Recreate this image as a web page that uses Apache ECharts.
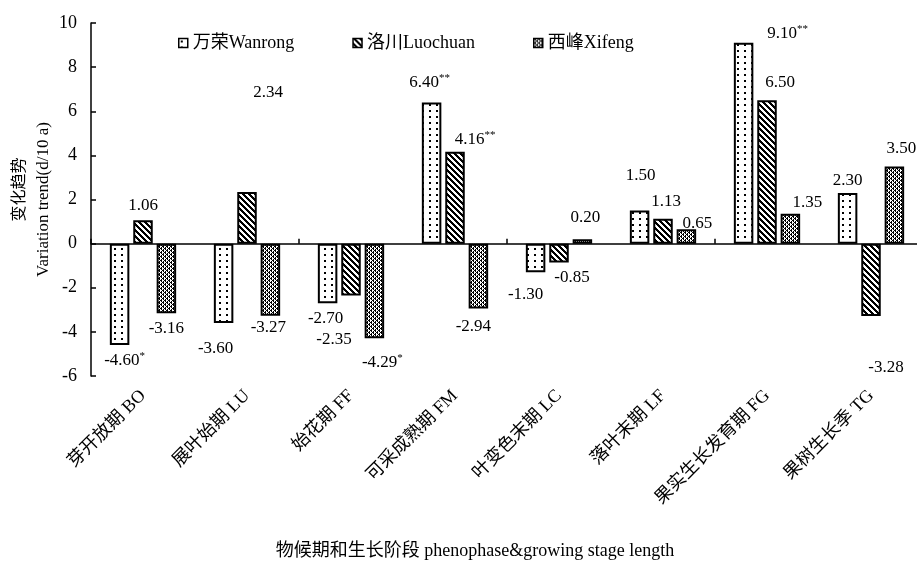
<!DOCTYPE html>
<html>
<head>
<meta charset="utf-8">
<script src="https://cdn.jsdelivr.net/npm/echarts@6/dist/echarts.min.js"></script>
<style>
  html, body { margin: 0; padding: 0; background: #fff; }
  #chart { width: 917px; height: 568px; }
</style>
</head>
<body>
<div id="chart"></div>
<script>
// Phenophase / growing-stage categories
const stages = ['芽开放期 BO', '展叶始期 LU', '始花期 FF', '可采成熟期 FM', '叶变色末期 LC', '落叶末期 LF', '果实生长发育期 FG', '果树生长季 TG'];
const siteNames = ['万荣Wanrong', '洛川Luochuan', '西峰Xifeng'];

// Variation trend (d/10 a) per site
const wanrong  = [-4.60, -3.60, -2.70, 6.40, -1.30, 1.50, 9.10, 2.30];
const luochuan = [1.06, 2.34, -2.35, 4.16, -0.85, 1.13, 6.50, -3.28];
const xifeng   = [-3.16, -3.27, -4.29, -2.94, 0.20, 0.65, 1.35, 3.50];

// Significance marks
const wanrongSig  = ['*', '', '', '**', '', '', '**', ''];
const luochuanSig = ['', '', '', '**', '', '', '', ''];
const xifengSig   = ['', '', '*', '', '', '', '', ''];

// Value axis range
const yMin = -6, yMax = 10, yStep = 2;

// Label nudges [dx, dy] so labels sit where they read clearly
const wanrongNudge  = [[5, 0], [-8, 10], [-2, 0], [-2, -5], [-10, 7], [1, -20], [44, 6], [0, 3]];
const luochuanNudge = [[0, 0], [21, -84], [-17, 29], [20, 3], [13, 0], [3, -2], [13, -3], [15, 37]];
const xifengNudge   = [[0, 0], [-2, -3], [8, 9], [-5, 3], [3, -7], [11, 9], [17, 4], [7, -3]];

const SERIF = '"Liberation Serif", "Noto Sans CJK SC", serif';

// Pattern tiles for the bar fills
function makeTile(w, h, fn) {
  const c = document.createElement('canvas');
  c.width = w; c.height = h;
  const ctx = c.getContext('2d');
  ctx.fillStyle = '#fff';
  ctx.fillRect(0, 0, w, h);
  ctx.fillStyle = '#000';
  for (let y = 0; y < h; y++) {
    for (let x = 0; x < w; x++) {
      if (fn(x, y)) ctx.fillRect(x, y, 1, 1);
    }
  }
  return c;
}
const mod = (a, n) => ((a % n) + n) % n;
const dotTile = makeTile(7, 6, (x, y) => x >= 2 && x < 4 && y >= 2 && y < 4);
const stripeTile = makeTile(6, 6, (x, y) => mod(x - y, 6) < 3);
const hatchTile = makeTile(4, 4, (x, y) => mod(x + y, 4) === 0 || mod(x - y, 4) === 0 || (x % 2 === 1 && y % 2 === 0 && mod(x + y, 4) === 1));

const fills = [
  { image: dotTile, repeat: 'repeat' },
  { image: stripeTile, repeat: 'repeat' },
  { image: hatchTile, repeat: 'repeat' }
];

function buildData(values, sig, nudge) {
  return values.map((v, i) => ({
    value: v,
    sig: sig[i],
    label: {
      position: v >= 0 ? 'top' : 'bottom',
      offset: nudge[i]
    }
  }));
}

function labelFormatter(p) {
  const txt = '{v|' + p.value.toFixed(2) + '}';
  return p.data.sig ? txt + '{s|' + p.data.sig + '}' : txt;
}

const seriesValues = [wanrong, luochuan, xifeng];
const seriesSig = [wanrongSig, luochuanSig, xifengSig];
const seriesNudge = [wanrongNudge, luochuanNudge, xifengNudge];

const series = siteNames.map((name, k) => ({
  name: name,
  type: 'bar',
  xAxisIndex: 0,
  barWidth: 19.5,
  barGap: '20%',
  data: buildData(seriesValues[k], seriesSig[k], seriesNudge[k]),
  itemStyle: { color: fills[k], borderColor: '#000', borderWidth: 2 },
  label: {
    show: true,
    distance: 5,
    color: '#000',
    formatter: labelFormatter,
    rich: {
      v: { fontSize: 17, lineHeight: 20, fontFamily: SERIF, color: '#000' },
      s: { fontSize: 11, lineHeight: 11, verticalAlign: 'top', fontFamily: SERIF, color: '#000' }
    }
  },
  emphasis: { disabled: true }
}));

const chart = echarts.init(document.getElementById('chart'), null, { renderer: 'canvas' });
chart.setOption({
  animation: false,
  backgroundColor: '#fff',
  textStyle: { fontFamily: SERIF, color: '#000' },
  legend: {
    data: siteNames,
    top: 29,
    left: 173,
    icon: 'rect',
    itemWidth: 9,
    itemHeight: 9,
    itemGap: 58,
    selectedMode: false,
    itemStyle: { borderColor: '#000', borderWidth: 1.5 },
    textStyle: { fontSize: 18, fontFamily: SERIF, color: '#000' }
  },
  grid: { left: 91, top: 23, width: 832, height: 353, containLabel: false, outerBoundsMode: 'none' },
  xAxis: [
    {
      type: 'category',
      data: stages,
      position: 'bottom',
      axisLine: { show: true, onZero: true, lineStyle: { color: '#000', width: 1.5 } },
      axisTick: { show: true, inside: true, length: 5, lineStyle: { color: '#000', width: 1.5 } },
      axisLabel: { show: false },
      splitLine: { show: false }
    },
    {
      type: 'category',
      data: stages,
      position: 'bottom',
      axisLine: { show: false, onZero: false },
      axisTick: { show: false },
      axisLabel: {
        show: true, rotate: 45, margin: 17, interval: 0,
        fontSize: 18, fontFamily: SERIF, color: '#000'
      },
      splitLine: { show: false },
      name: '物候期和生长阶段 phenophase&growing stage length',
      nameLocation: 'middle',
      nameGap: 166,
      nameMoveOverlap: false,
      nameTextStyle: { fontSize: 18, fontFamily: SERIF, color: '#000', padding: [0, 64, 0, 0] }
    }
  ],
  yAxis: {
    type: 'value',
    min: yMin,
    max: yMax,
    interval: yStep,
    axisLine: { show: true, lineStyle: { color: '#000', width: 1.5 } },
    axisTick: { show: true, inside: true, length: 5, lineStyle: { color: '#000', width: 1.5 } },
    splitLine: { show: false },
    axisLabel: { fontSize: 18, fontFamily: SERIF, color: '#000', margin: 14 },
    name: '{cn|变化趋势}\n{en|Variation trend(d/10 a)}',
    nameLocation: 'middle',
    nameRotate: 90,
    nameGap: 34,
    nameMoveOverlap: false,
    nameTextStyle: {
      color: '#000',
      rich: {
        cn: { fontSize: 16, lineHeight: 26, fontFamily: '"Noto Sans CJK SC", sans-serif', color: '#000', padding: [0, 0, 0, 20] },
        en: { fontSize: 17, lineHeight: 26, fontFamily: SERIF, color: '#000' }
      }
    }
  },
  series: series
});
</script>
</body>
</html>
